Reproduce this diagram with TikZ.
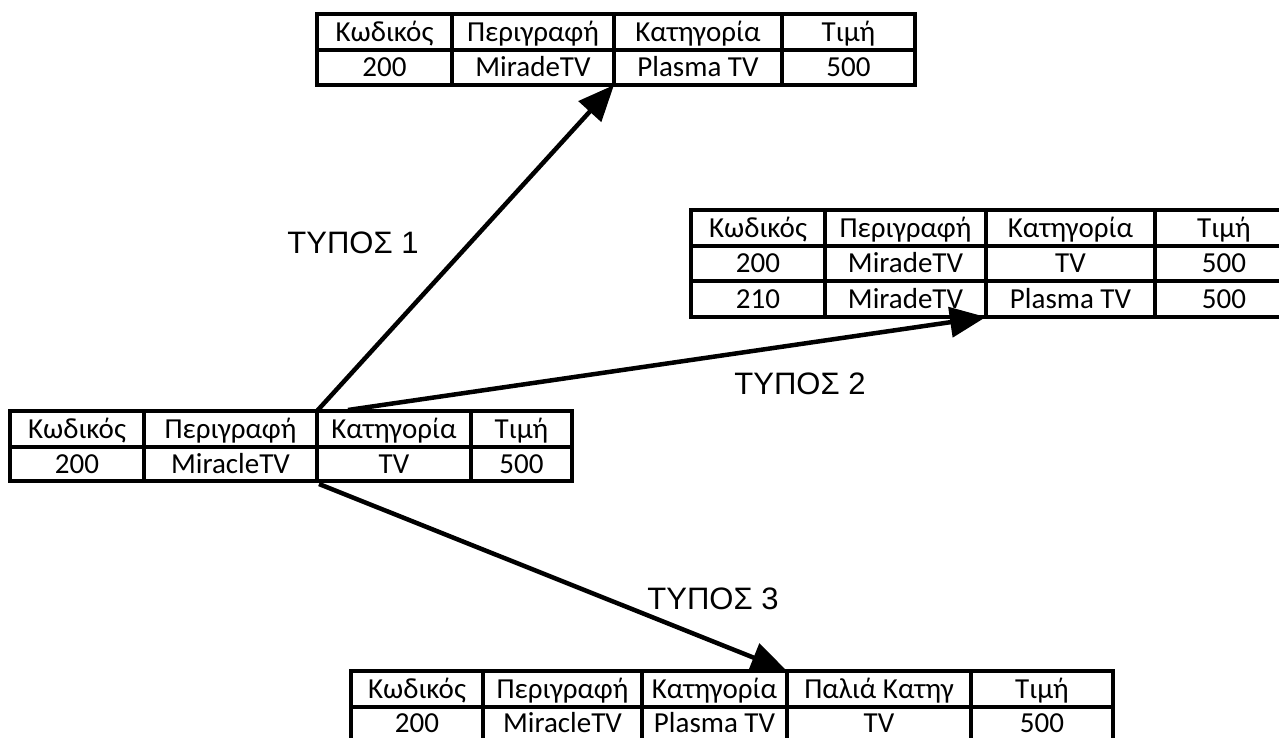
\documentclass[tikz,border=0pt]{standalone}
\usepackage{fontspec}
\setmainfont{Carlito}
\newfontfamily\labfont{Liberation Sans}
\usetikzlibrary{arrows.meta}
\newcommand\mkcell[6]{\node[cellbox, minimum width={(#3-#2)*1pt}, minimum height={(#5-#4)*1pt}] (#1) at ({(#2+#3)/2},{(#4+#5)/2}) {#6};}
\newcommand\mklowcell[6]{\node[cellbox, lowrow, minimum width={(#3-#2)*1pt}, minimum height={(#5-#4)*1pt}] (#1) at ({(#2+#3)/2},{(#4+#5)/2}) {#6};}
\begin{document}
\begin{tikzpicture}[x=1pt,y=-1pt,
  cellbox/.style={draw, line width=3.5pt, inner sep=0pt, outer sep=0pt, anchor=center,
    font=\fontsize{29}{32}\selectfont, text height=24.5pt, text depth=5.8pt},
  lowrow/.style={draw=none, text height=22.7pt, text depth=4pt},
  grid/.style={line width=3.5pt},
  arr/.style={line width=4.5pt, -{Triangle[length=36pt,width=30pt]}},
  lab/.style={font=\labfont\fontsize{31}{34}\selectfont, inner sep=0pt}]
\clip (0,0) rectangle (1279,738);
\useasboundingbox (0,0) rectangle (1279,738);
% Table A
\mkcell{a11}{10}{144}{411}{447}{Κωδικός}
\mkcell{a12}{144}{317}{411}{447}{Περιγραφή}
\mkcell{a13}{317}{471}{411}{447}{Κατηγορία}
\mkcell{a14}{471}{572}{411}{447}{Τιμή}
\mkcell{a21}{10}{144}{447}{481}{200}
\mkcell{a22}{144}{317}{447}{481}{MiracleTV}
\mkcell{a23}{317}{471}{447}{481}{TV}
\mkcell{a24}{471}{572}{447}{481}{500}
% Table B
\mkcell{b11}{317}{452}{14}{50}{Κωδικός}
\mkcell{b12}{452}{614}{14}{50}{Περιγραφή}
\mkcell{b13}{614}{782}{14}{50}{Κατηγορία}
\mkcell{b14}{782}{915}{14}{50}{Τιμή}
\mkcell{b21}{317}{452}{50}{85}{200}
\mkcell{b22}{452}{614}{50}{85}{MiradeTV}
\mkcell{b23}{614}{782}{50}{85}{Plasma TV}
\mkcell{b24}{782}{915}{50}{85}{500}
% Table C
\mkcell{c11}{691}{825}{210}{246}{Κωδικός}
\mkcell{c12}{825}{986}{210}{246}{Περιγραφή}
\mkcell{c13}{986}{1155}{210}{246}{Κατηγορία}
\mkcell{c14}{1155}{1293}{210}{246}{Τιμή}
\mkcell{c21}{691}{825}{246}{281}{200}
\mkcell{c22}{825}{986}{246}{281}{MiradeTV}
\mkcell{c23}{986}{1155}{246}{281}{TV}
\mkcell{c24}{1155}{1293}{246}{281}{500}
\mkcell{c31}{691}{825}{281}{317}{210}
\mkcell{c32}{825}{986}{281}{317}{MiradeTV}
\mkcell{c33}{986}{1155}{281}{317}{Plasma TV}
\mkcell{c34}{1155}{1293}{281}{317}{500}
% Table D
\mkcell{d11}{351}{483}{671}{707}{Κωδικός}
\mkcell{d12}{483}{642}{671}{707}{Περιγραφή}
\mkcell{d13}{642}{787}{671}{707}{Κατηγορία}
\mkcell{d14}{787}{971}{671}{707}{Παλιά Κατηγ}
\mkcell{d15}{971}{1113}{671}{707}{Τιμή}
\mklowcell{d21}{351}{483}{710}{736}{200}
\mklowcell{d22}{483}{642}{710}{736}{MiracleTV}
\mklowcell{d23}{642}{787}{710}{736}{Plasma TV}
\mklowcell{d24}{787}{971}{710}{736}{TV}
\mklowcell{d25}{971}{1113}{710}{736}{500}
\draw[grid] (d11.south west) -- ++(0,40);
\draw[grid] (d12.south west) -- ++(0,40);
\draw[grid] (d13.south west) -- ++(0,40);
\draw[grid] (d14.south west) -- ++(0,40);
\draw[grid] (d15.south west) -- ++(0,40);
\draw[grid] (d15.south east) -- ++(0,40);
% labels
\node[lab] (t1) at (353,243) {ΤΥΠΟΣ 1};
\node[lab] (t2) at (800,384) {ΤΥΠΟΣ 2};
\node[lab] (t3) at (713,599) {ΤΥΠΟΣ 3};
% arrows
\coordinate (s2) at (348,410);
\coordinate (s3) at (319,484);
\draw[arr] (a13.north west) -- (b23.south west);
\draw[arr] (s2) -- (c33.south west);
\draw[arr] (s3) -- (d14.north west);
\end{tikzpicture}
\end{document}
